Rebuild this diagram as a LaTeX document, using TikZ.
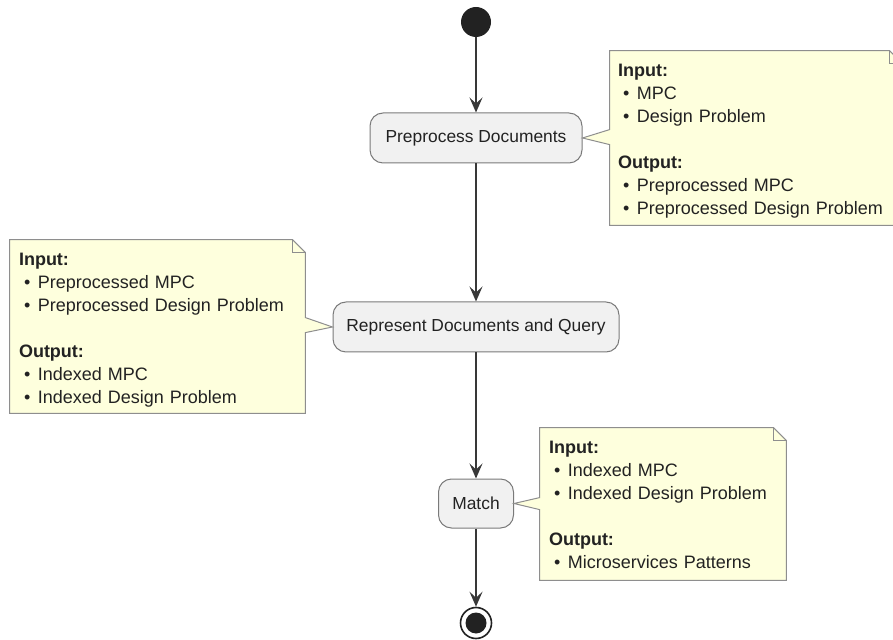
\documentclass[tikz,border=0pt]{standalone}
\usepackage{fontspec}
\setmainfont{Liberation Sans}
\usepackage{xcolor}
\definecolor{DarkGrey}{HTML}{222222}
\definecolor{LineGrey}{HTML}{383838}
\definecolor{BoxGrey}{HTML}{F1F1F1}
\definecolor{BoxEdge}{HTML}{7A7A7A}
\definecolor{NoteYellow}{HTML}{FEFFDD}
\definecolor{NoteEdge}{HTML}{8E8E8E}
\usetikzlibrary{calc,arrows.meta,positioning}
\newcommand\Px{0.5pt}
\newcommand\Fold{13}
\newcommand\BoxHeight{50*\Px}
\newcommand\Center{476}
\newcommand\Gap{11.5pt}
\newcommand\Item[1]{\hspace*{2.5pt}•\hspace{3.8pt}#1}
\tikzstyle{activity}=[rectangle,rounded corners=6.5pt,draw=BoxEdge,fill=BoxGrey,line width=0.5pt,
                     minimum height=\BoxHeight,text=DarkGrey,font=\fontsize{8.7}{11}\selectfont]
\tikzstyle{notebox}=[rectangle,inner sep=0pt]
\tikzstyle{notetext}=[inner sep=0pt,text width=140pt,align=left,anchor=base west,text=DarkGrey,
                     font=\fontsize{9}{11.5}\selectfont]
\tikzstyle{noteline}=[draw=NoteEdge,fill=NoteYellow,line width=0.5pt,line join=miter]
\tikzstyle{foldline}=[draw=NoteEdge,line width=0.5pt]
\tikzstyle{flow}=[draw=LineGrey,line width=0.8pt,-{Stealth[length=7.5pt,width=6.5pt,inset=3pt]}]
\tikzstyle{startdot}=[circle,fill=DarkGrey,minimum size=30*\Px,inner sep=0pt]
\tikzstyle{endring}=[circle,draw=DarkGrey,fill=white,line width=0.8pt,minimum size=31*\Px,inner sep=0pt]
\tikzstyle{enddot}=[circle,fill=DarkGrey,minimum size=21*\Px,inner sep=0pt]

\begin{document}
\begin{tikzpicture}[x=\Px,y=-\Px]
      \useasboundingbox (0,0) rectangle (893,640);
      % activities
      \node[startdot] (start) at (\Center,22) {};
      \node[activity] (prep) at (\Center,138) [minimum width=212*\Px] {Preprocess Documents};
      \node[activity] (repr) at (\Center,327) [minimum width=286*\Px] {Represent Documents and Query};
      \node[activity] (match) at (\Center,503.5) [minimum width=75*\Px,minimum height=49*\Px] {Match};
      \node[endring] (stop) at (\Center,623) {};
      \node[enddot] (stopdot) at (stop) {};
      \draw[flow] (start) -- (prep);
      \draw[flow] (prep) -- (repr);
      \draw[flow] (repr) -- (match);
      \draw[flow] (match) -- (stop);
      % note frames
      \node[notebox] (prepnote) at (756,138) [minimum width=292*\Px,minimum height=174*\Px] {};
      \node[notebox] (reprnote) at (157.5,326.5) [minimum width=295*\Px,minimum height=173*\Px] {};
      \node[notebox] (matchnote) at (663,504) [minimum width=246*\Px,minimum height=152*\Px] {};
      % note outlines
      \draw[noteline] (prepnote.north west) -- ($(prepnote.north east)+(-\Fold,0)$) -- ($(prepnote.north east)+(0,\Fold)$)
            -- (prepnote.south east) -- (prepnote.south west) -- ($(prepnote.north west)+(0,94)$)
            -- (prep.east) -- ($(prepnote.north west)+(0,79)$) -- cycle;
      \draw[foldline] ($(prepnote.north east)+(-\Fold,0)$) -- ($(prepnote.north east)+(-\Fold,\Fold)$) -- ($(prepnote.north east)+(0,\Fold)$);
      \draw[noteline] (reprnote.north west) -- ($(reprnote.north east)+(-\Fold,0)$) -- ($(reprnote.north east)+(0,\Fold)$)
            -- ($(reprnote.north east)+(0,78)$) -- (repr.west) -- ($(reprnote.north east)+(0,93)$)
            -- (reprnote.south east) -- (reprnote.south west) -- cycle;
      \draw[foldline] ($(reprnote.north east)+(-\Fold,0)$) -- ($(reprnote.north east)+(-\Fold,\Fold)$) -- ($(reprnote.north east)+(0,\Fold)$);
      \draw[noteline] (matchnote.north west) -- ($(matchnote.north east)+(-\Fold,0)$) -- ($(matchnote.north east)+(0,\Fold)$)
            -- (matchnote.south east) -- (matchnote.south west) -- ($(matchnote.north west)+(0,82)$)
            -- (match.east) -- ($(matchnote.north west)+(0,70)$) -- cycle;
      \draw[foldline] ($(matchnote.north east)+(-\Fold,0)$) -- ($(matchnote.north east)+(-\Fold,\Fold)$) -- ($(matchnote.north east)+(0,\Fold)$);
      % note texts
      \node[notetext] (preptext) at ($(prepnote.north west)+(8,26)$)
            {\textbf{Input:}\\ \Item{MPC}\\ \Item{Design Problem}\\[\Gap]
             \textbf{Output:}\\ \Item{Preprocessed MPC}\\ \Item{Preprocessed Design Problem}};
      \node[notetext] (reprtext) at ($(reprnote.north west)+(9,26)$)
            {\textbf{Input:}\\ \Item{Preprocessed MPC}\\ \Item{Preprocessed Design Problem}\\[\Gap]
             \textbf{Output:}\\ \Item{Indexed MPC}\\ \Item{Indexed Design Problem}};
      \node[notetext] (matchtext) at ($(matchnote.north west)+(9,26)$)
            {\textbf{Input:}\\ \Item{Indexed MPC}\\ \Item{Indexed Design Problem}\\[\Gap]
             \textbf{Output:}\\ \Item{Microservices Patterns}};
\end{tikzpicture}
\end{document}
